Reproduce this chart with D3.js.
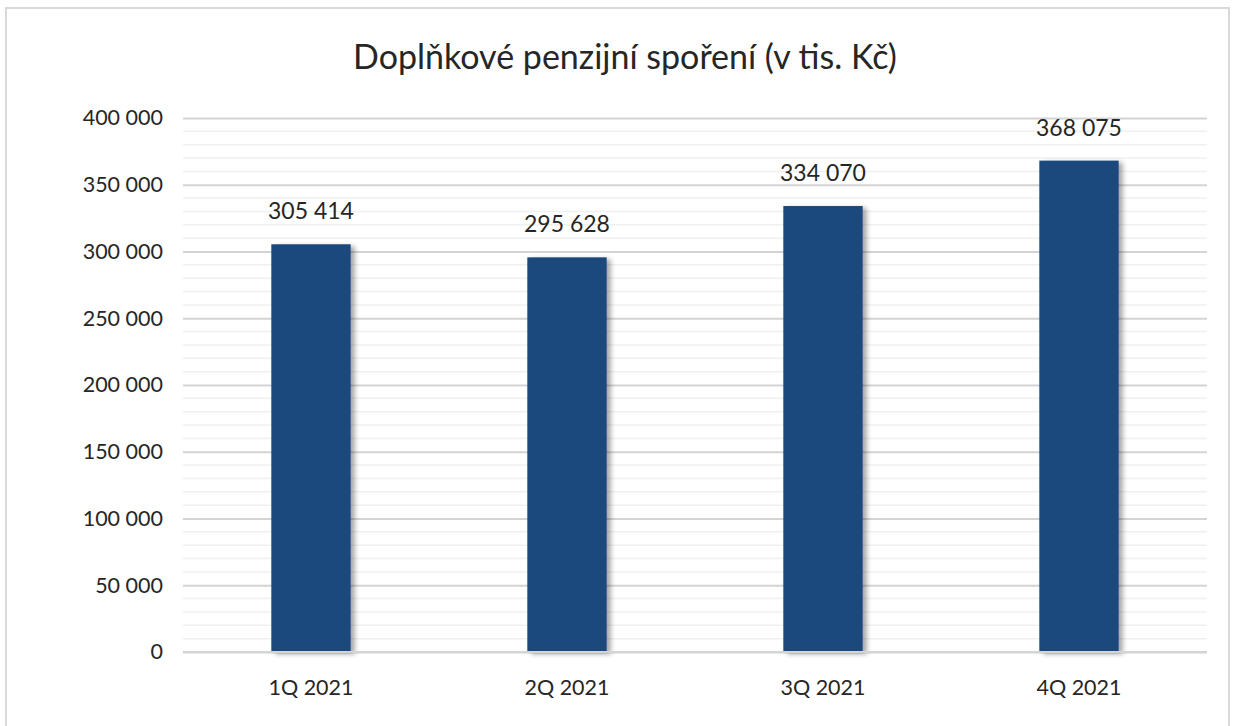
<!DOCTYPE html>
<html>
<head>
<meta charset="utf-8">
<script src="https://cdn.jsdelivr.net/npm/d3@7"></script>
<style>
  body { margin: 0; background: #fff; }
  text { font-family: Lato, "Open Sans", sans-serif; fill: #262626; }
</style>
</head>
<body>
<div id="chart"></div>
<script>
// data
const quarters = ["1Q 2021", "2Q 2021", "3Q 2021", "4Q 2021"];
const values = [305414, 295628, 334070, 368075];
const yTicks = [0, 50000, 100000, 150000, 200000, 250000, 300000, 350000, 400000];
const minorStep = 10000;

const w = 1238, h = 726;
const plotLeft = 183, plotRight = 1207, plotTop = 118, plotBottom = 652;

const cz = d3.formatLocale({decimal: ",", thousands: "\u00a0", grouping: [3]});
const fmt = cz.format(",d");

const svg = d3.select("#chart").append("svg")
  .attr("width", w)
  .attr("height", h);

// soft shadow behind the bars
const defs = svg.append("defs");
defs.append("filter")
  .attr("id", "shadow")
  .attr("x", "-20%").attr("y", "-20%")
  .attr("width", "150%").attr("height", "150%")
  .append("feDropShadow")
  .attr("dx", 4).attr("dy", 2)
  .attr("stdDeviation", 2.5)
  .attr("flood-color", "#000")
  .attr("flood-opacity", 0.35);

// chart frame
svg.append("rect")
  .attr("x", 6).attr("y", 8)
  .attr("width", 1223).attr("height", 740)
  .attr("fill", "#fff")
  .attr("stroke", "#d9d9d9")
  .attr("stroke-width", 2);

const x = d3.scaleBand()
  .domain(quarters)
  .range([plotLeft, plotRight])
  .paddingInner(0.69)
  .paddingOuter(0.345);

const y = d3.scaleLinear()
  .domain([0, 400000])
  .range([plotBottom, plotTop]);

// minor gridlines
const minor = d3.range(0, 400000 + 1, minorStep).filter(v => v % 50000 !== 0);
svg.append("g").selectAll("line")
  .data(minor)
  .join("line")
  .attr("x1", plotLeft).attr("x2", plotRight)
  .attr("y1", d => y(d)).attr("y2", d => y(d))
  .attr("stroke", "#f0f0f0")
  .attr("stroke-width", 1.5);

// major gridlines + labels via axis
const yAxis = d3.axisLeft(y)
  .tickValues(yTicks)
  .tickFormat(fmt)
  .tickSize(-(plotRight - plotLeft))
  .tickPadding(20);

const gy = svg.append("g")
  .attr("transform", "translate(" + plotLeft + ",0)")
  .call(yAxis);
gy.select(".domain").remove();
gy.selectAll(".tick line")
  .attr("stroke", "#d4d4d4")
  .attr("stroke-width", 1.8);
gy.selectAll(".tick text")
  .attr("fill", "#262626")
  .style("font-size", "21.5px");

// bars
svg.append("g").selectAll("rect")
  .data(values)
  .join("rect")
  .attr("x", (d, i) => x(quarters[i]))
  .attr("y", d => y(d))
  .attr("width", x.bandwidth())
  .attr("height", d => y(0) - y(d))
  .attr("fill", "#1f497d")
  .attr("filter", "url(#shadow)");

// baseline on top of shadows
svg.append("line")
  .attr("x1", plotLeft).attr("x2", plotRight)
  .attr("y1", y(0)).attr("y2", y(0))
  .attr("stroke", "#d4d4d4")
  .attr("stroke-width", 2);

// value labels
svg.append("g").selectAll("text")
  .data(values)
  .join("text")
  .attr("x", (d, i) => x(quarters[i]) + x.bandwidth() / 2)
  .attr("y", d => y(d) - 25)
  .attr("text-anchor", "middle")
  .style("font-size", "23px")
  .text(d => fmt(d));

// x labels
const xAxis = d3.axisBottom(x).tickSize(0).tickPadding(28);
const gx = svg.append("g")
  .attr("transform", "translate(0," + plotBottom + ")")
  .call(xAxis);
gx.select(".domain").remove();
gx.selectAll(".tick text")
  .attr("fill", "#262626")
  .style("font-size", "21.5px");

// title
svg.append("text")
  .attr("x", 625)
  .attr("y", 69)
  .attr("text-anchor", "middle")
  .style("font-size", "34px")
  .attr("fill", "#000")
  .text("Doplňkové penzijní spoření (v tis. Kč)");
</script>
</body>
</html>
